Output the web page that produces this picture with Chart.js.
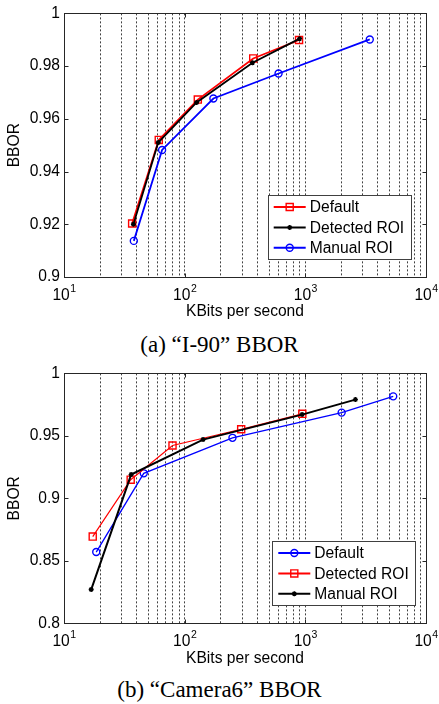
<!DOCTYPE html>
<html>
<head>
<meta charset="utf-8">
<script src="https://cdn.jsdelivr.net/npm/chart.js@4.4.0/dist/chart.umd.min.js"></script>
<style>
html, body { margin: 0; padding: 0; background: #fff; }
body { width: 439px; height: 704px; position: relative; overflow: hidden; }
.box { position: absolute; left: 0; width: 439px; }
.caption { position: absolute; left: 0; width: 439px; text-align: center; color: #000;
  font-family: "Liberation Serif", "Times New Roman", serif; font-size: 23px; line-height: 28px; }
</style>
</head>
<body>
<div class="box" style="top:0;height:322px"><canvas id="chartA"></canvas></div>
<div class="caption" style="top:331px">(a) “I-90” BBOR</div>
<div class="box" style="top:360px;height:310px"><canvas id="chartB"></canvas></div>
<div class="caption" style="top:676px">(b) “Camera6” BBOR</div>
<script>
"use strict";

// axis ticks
var xExps = [1, 2, 3, 4];               // 10^1 .. 10^4
var yTicksA = [0.9, 0.92, 0.94, 0.96, 0.98, 1];
var yTicksB = [0.8, 0.85, 0.9, 0.95, 1];
var xTitle = 'KBits per second';
var yTitle = 'BBOR';

// (a) I-90
var rateA_default = [36.7, 61, 128.5, 370, 887];
var bborA_default = [0.9203, 0.952, 0.9673, 0.9829, 0.9899];
var rateA_detected = [37.6, 60.4, 125.6, 365, 897];
var bborA_detected = [0.920, 0.951, 0.9662, 0.9813, 0.9904];
var rateA_manual = [37.9, 65, 173, 600, 3420];
var bborA_manual = [0.9137, 0.9482, 0.9677, 0.9772, 0.9901];

// (b) Camera6
var rateB_default = [18.5, 45.8, 249, 2000, 5350];
var bborB_default = [0.857, 0.920, 0.9484, 0.9686, 0.9816];
var rateB_detected = [17.3, 35.7, 79.3, 294, 944];
var bborB_detected = [0.8694, 0.9149, 0.9423, 0.9553, 0.9676];
var rateB_manual = [16.8, 36, 142, 940, 2600];
var bborB_manual = [0.827, 0.919, 0.947, 0.967, 0.979];

var FONT = '"Liberation Sans", Arial, sans-serif';
var FS = 15.6;

function pts(xs, ys) {
    return xs.map(function (x, i) { return { x: x, y: ys[i] }; });
}

// gridline positions: 1..9 x 10^e
function logGridTicks() {
    var out = [];
    for (var i = 0; i < xExps.length - 1; i++) {
        for (var m = 1; m < 10; m++) out.push({ value: m * Math.pow(10, xExps[i]) });
    }
    out.push({ value: Math.pow(10, xExps[xExps.length - 1]) });
    return out;
}

function marker(ctx, style, r, x, y, color, bw) {
    if (Chart.helpers && Chart.helpers.drawPoint) {
        ctx.strokeStyle = color;
        ctx.fillStyle = 'rgba(0,0,0,0)';
        ctx.lineWidth = bw;
        Chart.helpers.drawPoint(ctx, { pointStyle: style, radius: r, rotation: 0, borderWidth: bw }, x, y);
    }
}

var matlabAxes = {
    id: 'matlabAxes',
    afterDraw: function (chart, args, opts) {
        var ctx = chart.ctx, a = chart.chartArea;
        var xs = chart.scales.x, ys = chart.scales.y;
        var L = Math.round(a.left) + 0.5, R = Math.round(a.right) + 0.5;
        var T = Math.round(a.top) + 0.5, B = Math.round(a.bottom) + 0.5;
        ctx.save();
        ctx.setLineDash([]);
        ctx.strokeStyle = '#262626';
        ctx.lineWidth = 1;
        ctx.strokeRect(L, T, R - L, B - T);

        // inward tick marks
        ctx.beginPath();
        ys.ticks.forEach(function (t) {
            var y = Math.round(ys.getPixelForValue(t.value)) + 0.5;
            ctx.moveTo(L, y); ctx.lineTo(L + 4, y);
            ctx.moveTo(R, y); ctx.lineTo(R - 4, y);
        });
        xExps.forEach(function (e) {
            var x = Math.round(xs.getPixelForValue(Math.pow(10, e))) + 0.5;
            ctx.moveTo(x, B); ctx.lineTo(x, B - 4);
            ctx.moveTo(x, T); ctx.lineTo(x, T + 4);
        });
        ctx.stroke();

        // x tick labels 10^n
        ctx.fillStyle = '#000';
        ctx.textBaseline = 'alphabetic';
        ctx.textAlign = 'left';
        xExps.forEach(function (e) {
            var x = xs.getPixelForValue(Math.pow(10, e));
            ctx.font = FS + 'px ' + FONT;
            var w1 = ctx.measureText('10').width;
            ctx.font = '10.5px ' + FONT;
            var w2 = ctx.measureText(String(e)).width;
            var x0 = x - (w1 + w2) / 2;
            ctx.font = FS + 'px ' + FONT;
            ctx.fillText('10', x0, a.bottom + opts.tickBase);
            ctx.font = '10.5px ' + FONT;
            ctx.fillText(String(e), x0 + w1 + 0.5, a.bottom + opts.tickBase - 8);
        });

        // axis titles
        ctx.font = FS + 'px ' + FONT;
        ctx.textAlign = 'center';
        ctx.textBaseline = 'middle';
        ctx.fillText(xTitle, (a.left + a.right) / 2, a.bottom + opts.titleGap);
        ctx.save();
        ctx.translate(15, (a.top + a.bottom) / 2);
        ctx.rotate(-Math.PI / 2);
        ctx.fillText(yTitle, 0, 0);
        ctx.restore();

        // legend box
        var lg = opts.legend;
        ctx.fillStyle = '#fff';
        ctx.fillRect(lg.x, lg.y, lg.w, lg.h);
        ctx.strokeStyle = '#404040';
        ctx.lineWidth = 1;
        ctx.strokeRect(Math.round(lg.x) + 0.5, Math.round(lg.y) + 0.5, Math.round(lg.w), Math.round(lg.h));
        chart.data.datasets.forEach(function (ds, i) {
            var y = lg.y + 12 + i * 20.4;
            ctx.strokeStyle = ds.borderColor;
            ctx.lineWidth = 2;
            ctx.beginPath();
            ctx.moveTo(lg.x + 6, y); ctx.lineTo(lg.x + 38, y);
            ctx.stroke();
            marker(ctx, ds.pointStyle, ds.pointRadius, lg.x + 22, y, ds.borderColor, ds.pointBorderWidth);
            ctx.fillStyle = '#000';
            ctx.font = FS + 'px ' + FONT;
            ctx.textAlign = 'left';
            ctx.textBaseline = 'middle';
            ctx.fillText(ds.label, lg.x + 42, y + 1);
        });
        ctx.restore();
    }
};

// later series drawn on top (lower order = on top in Chart.js)
function series(label, xs, ys, color, style, r, lw, order) {
    return {
        label: label,
        data: pts(xs, ys),
        order: order,
        borderColor: color,
        backgroundColor: 'rgba(0,0,0,0)',
        borderWidth: lw,
        pointStyle: style,
        pointRadius: r,
        pointBorderWidth: 1.4,
        pointBorderColor: color,
        pointBackgroundColor: 'rgba(0,0,0,0)',
        fill: false,
        tension: 0
    };
}

function makeChart(id, datasets, yTicks, padTop, xHeight, legend) {
    return new Chart(document.getElementById(id), {
        type: 'line',
        data: { datasets: datasets },
        options: {
            responsive: true,
            maintainAspectRatio: false,
            animation: false,
            events: [],
            layout: { padding: { top: padTop, right: 13, left: 0, bottom: 0 } },
            plugins: {
                legend: { display: false },
                tooltip: { enabled: false },
                matlabAxes: { legend: legend, tickBase: 22.5, titleGap: 35 }
            },
            scales: {
                x: {
                    type: 'logarithmic',
                    min: 10,
                    max: 10000,
                    afterBuildTicks: function (scale) { scale.ticks = logGridTicks(); },
                    afterFit: function (scale) { scale.height = xHeight; },
                    ticks: { display: false },
                    grid: { color: 'rgba(0,0,0,0.75)', lineWidth: 1, drawTicks: false },
                    border: { display: false, dash: [2, 2] }
                },
                y: {
                    min: yTicks[0],
                    max: yTicks[yTicks.length - 1],
                    afterBuildTicks: function (scale) {
                        scale.ticks = yTicks.map(function (v) { return { value: v }; });
                    },
                    afterFit: function (scale) { scale.width = 64; },
                    ticks: {
                        padding: 4,
                        color: '#000',
                        font: { family: FONT, size: FS },
                        callback: function (v) { return String(+v.toFixed(3)); }
                    },
                    grid: { display: false, drawTicks: false },
                    border: { display: false }
                }
            }
        },
        plugins: [matlabAxes]
    });
}

makeChart('chartA', [
    series('Default', rateA_default, bborA_default, '#ff0000', 'rect', 5, 1.8, 3),
    series('Detected ROI', rateA_detected, bborA_detected, '#000000', 'star', 2.5, 1.8, 2),
    series('Manual ROI', rateA_manual, bborA_manual, '#0000ff', 'circle', 3.5, 1.8, 1)
], yTicksA, 12, 45, { x: 267.7, y: 195, w: 143.3, h: 64.3 });

makeChart('chartB', [
    series('Default', rateB_default, bborB_default, '#0000ff', 'circle', 3.5, 1.3, 3),
    series('Detected ROI', rateB_detected, bborB_detected, '#ff0000', 'rect', 5, 1.2, 2),
    series('Manual ROI', rateB_manual, bborB_manual, '#000000', 'star', 2.5, 2, 1)
], yTicksB, 12.7, 46.7, { x: 272.3, y: 181, w: 142.7, h: 64.3 });
</script>
</body>
</html>
